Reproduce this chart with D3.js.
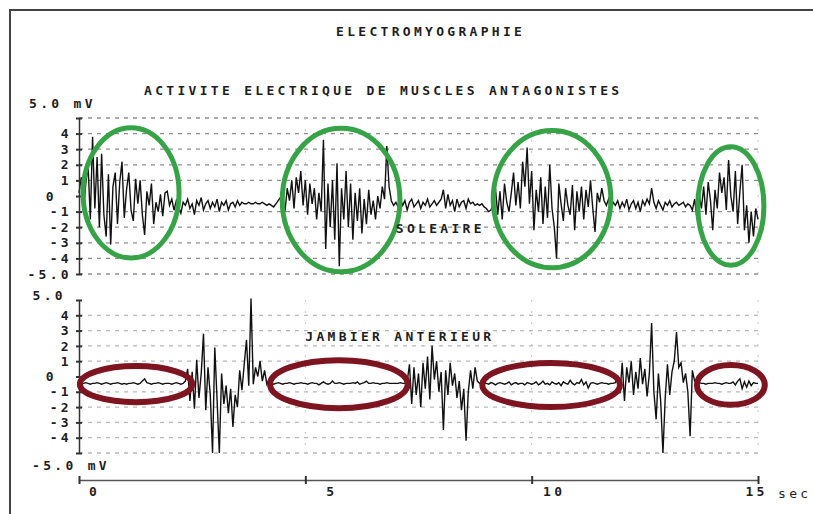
<!DOCTYPE html>
<html>
<head>
<meta charset="utf-8">
<script src="https://cdn.jsdelivr.net/npm/d3@7"></script>
<style>
  body { margin: 0; background: #fff; }
  svg { display: block; }
  text {
    font-family: "DejaVu Sans Mono", "Liberation Mono", monospace;
    font-weight: bold;
    font-size: 13px;
    fill: #1e1e1e;
    letter-spacing: 3.3px;
  }
</style>
</head>
<body>
<svg id="chart"></svg>
<script>
// time axis (sec) and voltage ticks (mV)
const seconds = [0, 5, 10, 15];
const mvTicks = [-5, -4, -3, -2, -1, 0, 1, 2, 3, 4, 5];
const sampleStep = 0.05; // one reading every 50 ms

// SOLEAIRE trace, one line per second
const soleaire = [
  0.2, 1.2, -1.0, 0.8, 2.0, -1.5, 3.8, -0.8, 2.5, -2.0, 2.7, -1.2, -2.6, 1.4, -3.1, 0.6, 1.5, -1.8, 0.9, 2.2,
  -1.4, 0.4, 1.5, -0.9, -1.6, 1.1, -0.5, 1.0, -1.2, -2.5, 0.3, -0.6, 0.8, -1.8, -0.4, -1.0, 0.1, -1.3, 0.2, 0.3,
  -0.6, -0.2, -0.9, -0.3, -0.7, -1.1, -0.4, -0.6, -0.2, -0.8, -0.5, -1.2, -0.3, -0.6, -0.1, -0.9, -0.5, -0.3, -0.8, -0.4,
  -0.7, -0.2, -1.0, -0.4, -0.6, -0.3, -0.9, -0.5, -0.4, -0.7, -0.3, -0.6, -0.4, -0.5, -0.5, -0.4, -0.5, -0.5, -0.4, -0.5,
  -0.5, -0.4, -0.5, -0.6, -0.5, -0.6, -0.7, -0.5, -0.3, -0.1, -0.5, -1.0, 0.5, -0.3, 1.0, -0.8, 1.2, 0.2, 1.6, -0.6,
  1.0, -1.2, 0.8, -0.5, 0.5, -1.5, 0.2, -1.0, 3.6, -3.4, 0.8, -2.0, 1.0, -2.8, 2.1, -4.5, 0.5, -1.5, 1.6, -2.0,
  0.8, -2.8, 0.2, -1.6, 0.5, -2.4, -0.2, -1.8, 0.4, -1.2, -0.3, -1.5, 0.0, -0.8, 0.6, -0.2, 3.2, 0.6, -0.3, -0.6,
  -0.4, -0.7, -0.2, -0.6, -0.3, -0.9, -0.4, -0.2, -0.7, -0.5, -0.3, -0.8, -0.4, -0.6, -0.2, -0.7, -0.5, -0.3, -0.6, -0.4,
  -0.2, 0.4, -0.8, 0.1, -0.6, -0.3, -1.0, -0.2, -0.7, -0.4, -0.3, -0.8, -0.2, -0.5, -0.4, -0.6, -0.5, -0.6, -0.5, -0.7,
  -0.8, -1.0, -0.9, -0.5, 0.5, -1.2, 0.3, -1.5, 0.8, -0.4, -1.0, 0.2, 1.5, -0.6, 0.9, -0.8, 2.2, 0.6, 3.1, -0.5,
  1.6, -2.2, 0.4, -1.0, 1.2, -1.8, 0.6, -1.4, 2.0, -0.8, -2.0, -4.0, 0.8, -0.5, -1.6, 0.5, -0.6, -1.2, 0.7, -2.2,
  0.3, -1.0, 0.6, -1.5, 0.4, -0.7, 1.0, -0.8, -2.3, 0.2, -0.4, 0.5, -0.3, -0.6, -0.2, -0.9, -0.4, -0.6, -0.3, -0.8,
  -0.4, -0.7, -0.2, -0.9, -0.5, -0.3, -0.8, -0.4, -1.0, -0.3, -0.6, -0.2, -0.5, 0.5, -0.4, -0.8, -0.3, -0.6, -0.9, -0.4,
  -0.6, -0.3, -0.7, -0.5, -0.4, -0.6, -0.5, -0.4, -0.7, -0.5, -0.6, -0.9, -0.2, -1.4, 0.1, -0.8, 0.6, -1.2, 0.9, -0.3,
  -2.2, 0.4, -0.8, 1.5, 0.2, 1.2, -0.9, 2.3, 0.0, -1.0, 1.6, -1.8, 0.3, 2.0, -2.2, -0.6, -3.0, -1.0, -2.6, -0.8, -1.5
];

// JAMBIER ANTERIEUR trace, one line per second
const jambier = [
  -0.45, -0.5, -0.45, -0.4, -0.45, -0.5, -0.45, -0.45, -0.4, -0.45, -0.5, -0.45, -0.4, -0.45, -0.5, -0.45, -0.45, -0.4, -0.45, -0.5,
  -0.45, -0.5, -0.45, -0.45, -0.4, -0.45, -0.5, -0.45, -0.3, -0.15, -0.4, -0.45, -0.5, -0.45, -0.45, -0.4, -0.45, -0.5, -0.45, -0.45,
  -0.45, -0.5, -0.45, -0.4, -0.45, -0.5, -0.45, -0.3, 0.5, -1.6, 0.3, -2.1, 1.1, -1.4, 0.2, 2.8, -2.2, 0.6, -1.2, -5.0,
  1.9, -1.5, -5.0, 0.2, -1.8, -0.6, -2.4, -0.8, -3.3, -1.2, -2.0, 0.4, -0.9, 0.8, 2.4, -0.6, 5.1, -0.5, 0.6, 0.0,
  1.0, -0.3, 0.4, -0.5, -0.2, -0.45, -0.5, -0.45, -0.4, -0.45, -0.5, -0.45, -0.45, -0.4, -0.45, -0.5, -0.45, -0.45, -0.4, -0.45,
  -0.45, -0.5, -0.45, -0.4, -0.45, -0.45, -0.55, -0.45, -0.35, -0.45, -0.5, -0.45, -0.3, -0.45, -0.45, -0.4, -0.45, -0.5, -0.45, -0.45,
  -0.45, -0.4, -0.45, -0.35, -0.5, -0.45, -0.4, -0.3, -0.45, -0.45, -0.4, -0.45, -0.45, -0.5, -0.45, -0.45, -0.4, -0.45, -0.45, -0.45,
  -0.45, -0.45, -0.4, -0.45, -0.45, -0.35, 0.8, -1.8, 0.6, -1.2, 0.2, -2.0, 0.9, -0.8, 1.3, -1.5, 2.0, -0.2, 1.0, -1.0,
  0.3, -3.5, 0.4, -1.2, 0.9, -0.6, 0.2, -1.4, -0.3, -2.2, -0.8, -4.2, -1.0, 0.4, -0.8, 0.6, -0.3, -0.45, -0.4, -0.45,
  -0.45, -0.5, -0.4, -0.45, -0.55, -0.45, -0.4, -0.45, -0.5, -0.45, -0.35, -0.55, -0.45, -0.4, -0.5, -0.45, -0.45, -0.55, -0.4, -0.45,
  -0.5, -0.45, -0.35, -0.55, -0.45, -0.3, -0.5, -0.45, -0.55, -0.35, -0.45, -0.5, -0.4, -0.6, -0.35, -0.45, -0.5, -0.25, -0.45, -0.55,
  -0.4, -0.45, -0.2, -0.55, -0.35, -0.75, -0.45, -0.4, -0.45, -0.5, -0.45, -0.4, -0.45, -0.45, -0.5, -0.45, -0.45, -0.4, -0.1, -1.1,
  0.9, -1.6, 0.6, -0.4, 1.0, -1.2, 0.3, -0.8, 1.2, -0.5, 0.5, -1.3, 0.2, 3.5, -1.0, -2.8, 0.2, -1.6, -5.0, -1.4,
  0.8, -1.2, 0.3, 1.0, 2.9, 0.6, 0.9, -0.4, 0.2, -1.0, -3.9, 0.4, -0.3, -0.45, -0.4, -0.45, -0.45, -0.5, -0.45, -0.45,
  -0.45, -0.4, -0.45, -0.45, -0.5, -0.45, -0.4, -0.45, -0.45, -0.35, -0.55, -0.3, -0.15, -0.8, -0.35, -0.7, -0.3, -0.6, -0.4, -0.45, -0.45
];

// circled zones: [centre sec, centre mV, half-width sec, half-height mV]
const soleaireBursts = [[1.15, 0.2, 1.06, 4.17], [5.79, -0.26, 1.30, 4.6], [10.45, -0.2, 1.30, 4.4], [14.40, -0.64, 0.73, 3.8]];
const jambierRests = [[1.26, -0.5, 1.24, 1.18], [5.74, -0.5, 1.52, 1.57], [10.43, -0.55, 1.52, 1.44], [14.40, -0.55, 0.75, 1.3]];

const width = 813, height = 514;

const svg = d3.select("#chart")
    .attr("width", width)
    .attr("height", height);

const x = d3.scaleLinear().domain([0, 15]).range([79, 758]);
const yTop = d3.scaleLinear().domain([-5, 5]).range([274, 118]);
const yBot = d3.scaleLinear().domain([-5, 5]).range([453, 300]);

// page frame (left + top edge only)
svg.append("path")
    .attr("d", `M10,${height}V10H${width}`)
    .attr("fill", "none")
    .attr("stroke", "#444")
    .attr("stroke-width", 2);

svg.append("text").attr("x", 336).attr("y", 31).attr("dy", "0.35em").text("ELECTROMYOGRAPHIE");
svg.append("text").attr("x", 144).attr("y", 90).attr("dy", "0.35em").text("ACTIVITE ELECTRIQUE DE MUSCLES ANTAGONISTES");

function drawPanel(y, values, zones, zoneColor, zoneWidth, gridColor, gridTicks, fmt) {
    const g = svg.append("g");

    // dashed horizontal grid
    g.selectAll(".hgrid")
        .data(gridTicks)
        .join("line")
        .attr("x1", x(0)).attr("x2", x(15) + 2)
        .attr("y1", d => y(d)).attr("y2", d => y(d))
        .attr("stroke", gridColor)
        .attr("stroke-width", 1.3)
        .attr("stroke-dasharray", "4,5");

    // faint vertical grid at 5, 10, 15 s
    g.selectAll(".vgrid")
        .data(seconds.slice(1))
        .join("line")
        .attr("x1", d => x(d)).attr("x2", d => x(d))
        .attr("y1", y(5)).attr("y2", y(-5))
        .attr("stroke", "#c4c4c4")
        .attr("stroke-width", 1)
        .attr("stroke-dasharray", "2,9");

    // the EMG trace
    const line = d3.line()
        .x((d, i) => x(i * sampleStep))
        .y(d => y(d));

    g.append("path")
        .datum(values)
        .attr("d", line)
        .attr("fill", "none")
        .attr("stroke", "#111")
        .attr("stroke-width", 1.4)
        .attr("stroke-linejoin", "miter");

    // y axis
    const axis = g.append("g")
        .attr("transform", `translate(${x(0)},0)`)
        .call(d3.axisLeft(y).tickValues(mvTicks).tickSizeInner(3).tickSizeOuter(0).tickPadding(4).tickFormat(fmt));
    axis.attr("font-family", null).attr("font-size", null);
    axis.select(".domain").attr("stroke", "#333").attr("stroke-width", 1.5);
    axis.selectAll(".tick line").attr("x1", 3).attr("stroke", "#333").attr("stroke-width", 2);
    axis.selectAll(".tick text")
        .style("fill", "#1e1e1e")
        .attr("dx", d => d === 0 ? -15 : 0);

    // hand-drawn circles
    g.selectAll(".zone")
        .data(zones)
        .join("ellipse")
        .attr("cx", d => x(d[0]))
        .attr("cy", d => y(d[1]))
        .attr("rx", d => x(d[0] + d[2]) - x(d[0]))
        .attr("ry", d => y(d[1] - d[3]) - y(d[1]))
        .attr("fill", "none")
        .attr("stroke", zoneColor)
        .attr("stroke-width", zoneWidth);

    return g;
}

const topPanel = drawPanel(yTop, soleaire, soleaireBursts, "#37a347", 5, "#8f8f8f",
    [-5, -4, -3, -2, -1, 1, 2, 3, 4, 5],
    d => d === 5 ? "" : d === -5 ? "-5.0" : String(d));
topPanel.append("text").attr("x", 29).attr("y", yTop(5) - 15).attr("dy", "0.35em").text("5.0 mV");
topPanel.append("text").attr("x", x(7.0)).attr("y", yTop(-2.05)).attr("dy", "0.35em").text("SOLEAIRE");

const bottomPanel = drawPanel(yBot, jambier, jambierRests, "#7d1420", 6, "#b8b8b8",
    [-5, -4, -3, -2, -1, 1, 2, 3, 4],
    d => d === -5 ? "" : d === 5 ? "5.0" : String(d));
bottomPanel.selectAll(".tick text").filter(d => d === 5).attr("dx", -6).attr("dy", "-0.05em");
bottomPanel.append("text").attr("x", 32).attr("y", yBot(-5) + 12).attr("dy", "0.35em").text("-5.0 mV");
bottomPanel.append("text").attr("x", x(5.0)).attr("y", yBot(2.6)).attr("dy", "0.35em").text("JAMBIER ANTERIEUR");

// time axis
const labelShift = [15, 26, 22, -2];
const xAxis = svg.append("g")
    .attr("transform", "translate(0,480)")
    .call(d3.axisBottom(x).tickValues(seconds).tickSizeInner(4).tickSizeOuter(0).tickPadding(8).tickFormat(d => String(d)));
xAxis.attr("font-family", null).attr("font-size", null);
xAxis.select(".domain").attr("stroke", "#555").attr("stroke-width", 1.5);
xAxis.selectAll(".tick line").attr("y1", -4).attr("stroke", "#333").attr("stroke-width", 2);
xAxis.selectAll(".tick text")
    .style("fill", "#1e1e1e")
    .attr("dx", (d, i) => labelShift[i])
    .attr("y", 7);

svg.append("text")
    .attr("x", 778).attr("y", 493).attr("dy", "0.35em")
    .style("font-weight", "normal")
    .text("sec");
</script>
</body>
</html>
